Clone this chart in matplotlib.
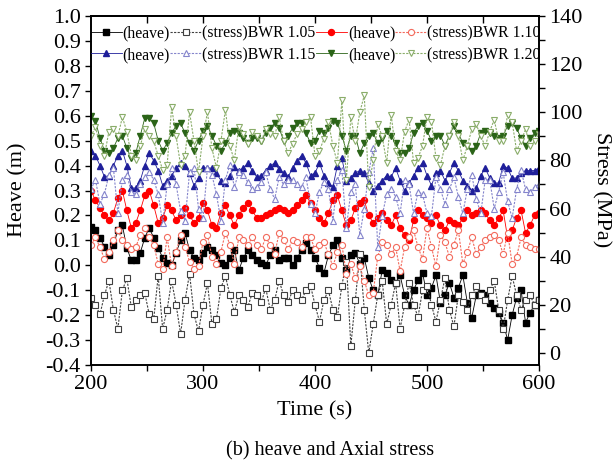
import numpy as np
import matplotlib
matplotlib.use("Agg")
import matplotlib.pyplot as plt
from matplotlib.ticker import MultipleLocator

plt.rcParams['font.family'] = ['Liberation Serif', 'DejaVu Serif']

# time axis (s), one sample every 4 s
time = np.arange(200, 601, 4)

# heave (m), left axis
heave_105 = [0.155, 0.14, 0.11, 0.075, 0.04, 0.08, 0.14, 0.16, 0.07, 0.02,
             0.02, 0.05, 0.11, 0.15, 0.11, 0.07, 0.03, 0.01, 0.00, 0.05,
             0.10, 0.13, 0.06, 0.03, 0.02, 0.05, 0.075, 0.06, 0.04, 0.01,
             0.00, 0.03, 0.06, -0.02, 0.03, 0.06, 0.04, 0.02, 0.01, 0.00,
             0.04, 0.06, 0.02, 0.03, 0.03, 0.00, 0.03, 0.06, 0.09, 0.06,
             0.03, -0.01, -0.03, 0.04, 0.08, 0.10, 0.03, -0.02, 0.04, 0.05,
             0.005, 0.03, -0.05, -0.10, -0.12, -0.02, -0.03, -0.06, -0.07, -0.04,
             -0.12, -0.16, -0.10, -0.06, -0.03, -0.12, -0.09, -0.04, -0.15, -0.12,
             -0.07, -0.13, -0.09, -0.04, -0.15, -0.21, -0.12, -0.11, -0.12, -0.15,
             -0.17, -0.19, -0.23, -0.30, -0.20, -0.13, -0.10, -0.23, -0.19, -0.16,
             -0.14]
heave_110 = [0.30, 0.26, 0.23, 0.20, 0.18, 0.21, 0.27, 0.30, 0.22, 0.15,
             0.17, 0.22, 0.28, 0.30, 0.24, 0.17, 0.19, 0.24, 0.22, 0.18,
             0.20, 0.23, 0.20, 0.17, 0.19, 0.25, 0.22, 0.16, 0.15, 0.21,
             0.24, 0.20, 0.16, 0.20, 0.23, 0.25, 0.22, 0.19, 0.19, 0.20,
             0.21, 0.22, 0.23, 0.22, 0.21, 0.22, 0.24, 0.26, 0.28, 0.25,
             0.22, 0.19, 0.17, 0.21, 0.26, 0.28, 0.22, 0.16, 0.18, 0.23,
             0.25, 0.26, 0.20, 0.17, 0.19, 0.21, 0.18, 0.16, 0.20, 0.15,
             0.12, 0.10, 0.18, 0.22, 0.20, 0.19, 0.17, 0.20, 0.16, 0.14,
             0.18, 0.17, 0.16, 0.19, 0.22, 0.20, 0.21, 0.22, 0.21, 0.18,
             0.16, 0.19, 0.22, 0.11, 0.14, 0.19, 0.22, 0.13, 0.16, 0.20,
             0.21]
heave_115 = [0.46, 0.44, 0.40, 0.355, 0.36, 0.40, 0.44, 0.46, 0.40, 0.31,
             0.31, 0.34, 0.40, 0.45, 0.42, 0.38, 0.32, 0.34, 0.36, 0.39,
             0.41, 0.40, 0.37, 0.32, 0.35, 0.39, 0.39, 0.39, 0.37, 0.34,
             0.33, 0.36, 0.395, 0.38, 0.39, 0.41, 0.38, 0.355, 0.36, 0.38,
             0.40, 0.41, 0.385, 0.37, 0.355, 0.39, 0.42, 0.44, 0.41, 0.36,
             0.37, 0.41, 0.36, 0.33, 0.315, 0.40, 0.43, 0.34, 0.35, 0.37,
             0.38, 0.37, 0.33, 0.30, 0.32, 0.34, 0.36, 0.355, 0.39, 0.34,
             0.30, 0.33, 0.36, 0.39, 0.41, 0.36, 0.32, 0.37, 0.38, 0.34,
             0.37, 0.41, 0.38, 0.34, 0.32, 0.30, 0.31, 0.36, 0.39, 0.35,
             0.33, 0.33, 0.40, 0.39, 0.35, 0.35, 0.37, 0.38, 0.38, 0.38,
             0.39]
heave_120 = [0.60, 0.58, 0.51, 0.46, 0.45, 0.47, 0.51, 0.52, 0.47, 0.43,
             0.45, 0.52, 0.59, 0.59, 0.57, 0.50, 0.46, 0.49, 0.53, 0.56,
             0.57, 0.53, 0.49, 0.46, 0.50, 0.54, 0.56, 0.52, 0.48, 0.46,
             0.49, 0.53, 0.54, 0.53, 0.51, 0.49, 0.51, 0.51, 0.50, 0.53,
             0.55, 0.57, 0.55, 0.50, 0.52, 0.55, 0.57, 0.57, 0.53, 0.49,
             0.50, 0.54, 0.53, 0.55, 0.58, 0.57, 0.52, 0.46, 0.52, 0.52,
             0.45, 0.49, 0.52, 0.53, 0.49, 0.51, 0.54, 0.52, 0.49, 0.45,
             0.45, 0.47, 0.53, 0.56, 0.57, 0.54, 0.50, 0.52, 0.52, 0.48,
             0.52, 0.56, 0.53, 0.49, 0.48, 0.46, 0.48, 0.53, 0.54, 0.53,
             0.52, 0.51, 0.52, 0.56, 0.57, 0.55, 0.51, 0.48, 0.51, 0.53,
             0.54]

# axial stress (MPa), right axis
stress_105 = [23, 20, 16, 24, 30, 18, 10, 26, 31, 19,
              22, 24, 25, 16, 14, 32, 10, 18, 30, 20,
              8, 22, 33, 16, 9, 20, 29, 12, 14, 27,
              32, 24, 17, 24, 22, 19, 25, 24, 21, 27,
              18, 22, 30, 24, 21, 26, 24, 22, 26, 28,
              20, 13, 22, 26, 18, 15, 28, 38, 3, 22,
              41, 18, 0, 12, 24, 30, 12, 20, 29, 10,
              20, 29, 20, 15, 26, 28, 20, 13, 22, 31,
              18, 11, 24, 21, 18, 24, 28, 24, 22, 26,
              30, 18, 10, 22, 32, 24, 18, 22, 24, 20,
              22]
stress_110 = [45, 48, 44, 39, 42, 47, 51, 47, 45, 43,
              44, 49, 52, 48, 45, 37, 35, 48, 36, 42,
              49, 44, 38, 35, 36, 46, 49, 40, 37, 42,
              50, 45, 37, 48, 47, 45, 48, 45, 43, 48,
              45, 41, 50, 47, 43, 47, 46, 44, 48, 48,
              43, 45, 46, 41, 36, 42, 45, 33, 37, 31,
              36, 30, 24, 25, 40, 46, 45, 41, 44, 34,
              44, 48, 51, 44, 39, 52, 44, 36, 49, 46,
              40, 45, 51, 37, 42, 48, 41, 44, 47, 48,
              49, 47, 41, 50, 37, 40, 48, 45, 44, 43,
              43]
stress_115 = [68, 72, 62, 66, 74, 77, 58, 72, 74, 67,
              66, 70, 73, 75, 72, 66, 54, 70, 77, 70,
              59, 55, 75, 77, 60, 56, 77, 74, 66, 55,
              72, 78, 69, 75, 74, 71, 68, 69, 71, 75,
              68, 64, 73, 70, 72, 72, 70, 69, 73, 62,
              58, 67, 71, 68, 55, 72, 76, 52, 67, 70,
              49, 60, 75, 85, 44, 57, 66, 68, 65, 58,
              72, 70, 58, 67, 66, 58, 57, 73, 68, 62,
              68, 73, 65, 58, 68, 74, 64, 58, 72, 72,
              60, 67, 75, 63, 56, 68, 76, 68, 67, 69,
              70]
stress_120 = [90, 94, 86, 82, 92, 93, 90, 98, 92, 82,
              80, 86, 93, 90, 88, 82, 76, 78, 102, 90,
              78, 82, 100, 88, 75, 90, 100, 85, 77, 88,
              101, 86, 80, 94, 91, 87, 92, 90, 88, 93,
              91, 90, 98, 88, 83, 87, 91, 93, 96, 98,
              82, 84, 89, 96, 86, 79, 105, 72, 98, 88,
              100, 107, 69, 80, 95, 90, 79, 99, 84, 80,
              92, 97, 79, 81, 86, 98, 96, 81, 78, 86,
              90, 96, 90, 80, 86, 93, 95, 90, 86, 92,
              97, 88, 88, 99, 96, 84, 88, 93, 86, 88,
              91]

fig = plt.figure(figsize=(6.16, 4.67), dpi=100)
ax = fig.add_axes([0.1477, 0.2184, 0.7273, 0.7473])
ax2 = ax.twinx()

ms_h = 4.3
ms_s = 4.4
dash = (0, (2.0, 1.2))
h1, = ax.plot(time, heave_105, '-', color='black', lw=0.6, marker='s', ms=ms_h)
h2, = ax.plot(time, heave_110, '-', color='#ff0000', lw=0.6, marker='o', ms=ms_h)
h3, = ax.plot(time, heave_115, '-', color='#1f1f9a', lw=0.6, marker='^', ms=ms_h + 0.4)
h4, = ax.plot(time, heave_120, '-', color='#2b6418', lw=0.6, marker='v', ms=ms_h + 0.4)

s1, = ax2.plot(time, stress_105, ls=dash, color='#404040', lw=0.8, marker='s', ms=ms_s,
               mfc='white', mew=0.8)
s2, = ax2.plot(time, stress_110, ls=dash, color='#f36a5c', lw=0.8, marker='o', ms=ms_s,
               mfc='white', mew=0.8)
s3, = ax2.plot(time, stress_115, ls=dash, color='#8585cc', lw=0.8, marker='^', ms=ms_s + 0.4,
               mfc='white', mew=0.8)
s4, = ax2.plot(time, stress_120, ls=dash, color='#8aad6a', lw=0.8, marker='v', ms=ms_s + 0.4,
               mfc='white', mew=0.8)

ax.set_xlim(200, 600)
ax.set_ylim(-0.4, 1.0)
ax2.set_ylim(-5, 140)

ax.xaxis.set_major_locator(MultipleLocator(100))
ax.xaxis.set_minor_locator(MultipleLocator(50))
ax.yaxis.set_major_locator(MultipleLocator(0.1))
ax2.yaxis.set_major_locator(MultipleLocator(20))
ax2.yaxis.set_minor_locator(MultipleLocator(10))
ax.yaxis.set_major_formatter(plt.FuncFormatter(lambda v, p: f"{v:.1f}"))

ax.tick_params(axis='both', which='both', direction='out', labelsize=16,
               length=4, width=1)
ax2.tick_params(axis='y', which='both', direction='out', labelsize=16,
                length=4, width=1)
top = ax.secondary_xaxis('top')
top.set_xticks(np.arange(250, 600, 50))
top.tick_params(direction='in', length=5, width=1, labeltop=False)

for a in (ax, ax2):
    for sp in a.spines.values():
        sp.set_linewidth(1.2)
top.spines['top'].set_linewidth(1.2)

fig.text(18 / 616, 1 - 190 / 467, 'Heave (m)', rotation=90, ha='center',
         va='center', fontsize=16)
fig.text(601 / 616, 1 - 190 / 467, 'Stress (MPa)', rotation=270, ha='center',
         va='center', fontsize=16)
fig.text(315 / 616, 1 - 411 / 467, 'Time (s)', ha='center', va='center',
         fontsize=16)
fig.text(330 / 616, 1 - 451 / 467, '(b) heave and Axial stress', ha='center',
         va='center', fontsize=14.5)

handles = [h1, h3, s1, s3, h2, h4, s2, s4]
labels = ['(heave)', '(heave)', '(stress)BWR 1.05', '(stress)BWR 1.15',
          '(heave)', '(heave)', '(stress)BWR 1.10', '(stress)BWR 1.20']
ax2.legend(handles, labels, loc='upper left', bbox_to_anchor=(-0.022, 1.0),
           ncol=4, frameon=False, fontsize=11.3, handlelength=2.0,
           handletextpad=0.05, columnspacing=0.0, labelspacing=0.35,
           borderaxespad=0.3, borderpad=0.3)

fig.savefig('out.png', dpi=100)
